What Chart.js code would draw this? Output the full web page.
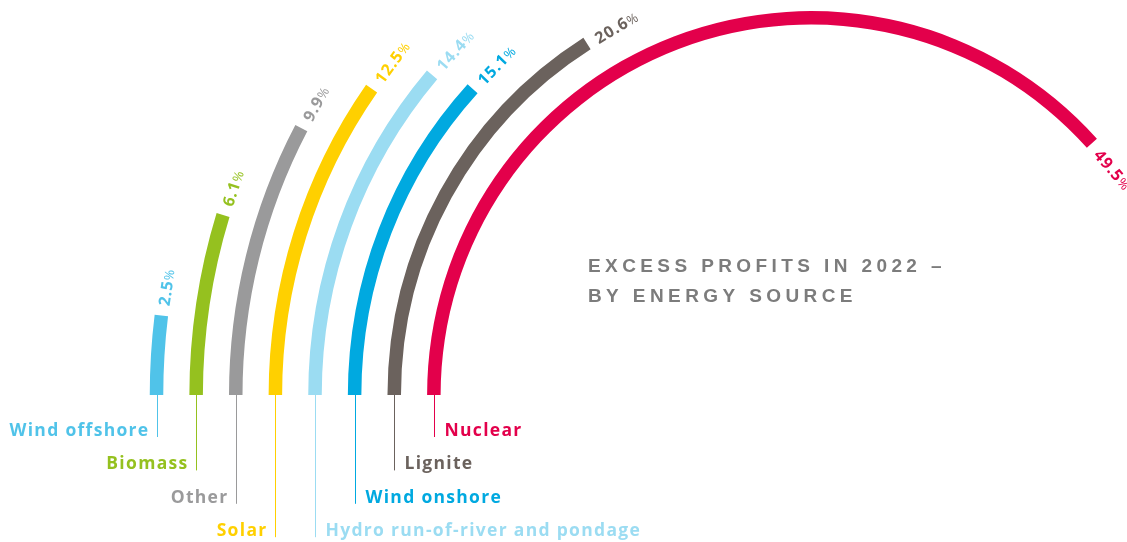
<!DOCTYPE html>
<html><head><meta charset="utf-8">
<script src="https://cdn.jsdelivr.net/npm/chart.js@4.4.0/dist/chart.umd.min.js"></script>
<style>
html,body{margin:0;padding:0;background:#fff;overflow:hidden;}
#wrap{position:relative;width:1127px;height:542px;overflow:hidden;background:#fff;}
#c{position:absolute;left:0;top:-266px;}
</style></head><body>
<div id="wrap"><canvas id="c" width="1472" height="1322" style="width:1472px;height:1322px"></canvas></div>
<script>
// ---- data ----
const categories = ['Wind offshore', 'Biomass', 'Other', 'Solar', 'Hydro run-of-river and pondage', 'Wind onshore', 'Lignite', 'Nuclear'];
const values = [2.5, 6.1, 9.9, 12.5, 14.4, 15.1, 20.6, 49.5];
const valueLabels = ['2.5', '6.1', '9.9', '12.5', '14.4', '15.1', '20.6', '49.5'];
const colors = ['#50c3e9', '#95c11f', '#9a9a9b', '#ffd000', '#9bdcf2', '#00a9e0', '#6b625d', '#e3004b'];
const titleLines = ['EXCESS PROFITS IN 2022 \u2013', 'BY ENERGY SOURCE'];
const FULL_TURN = 129.0;   // percent value that would close a full circle

// ---- layout ----
const OY = 266;               // canvas top offset (page y = canvas y - OY)
const RING_W = 13.5, GAP_W = 26.1;
const labelLevel = [0, 1, 2, 3, 3, 2, 1, 0];

const datasets = [];
const ringIdx = [];
categories.forEach((c, i) => {
  if (i > 0) datasets.push({ label: 'gap' + i, data: [1], backgroundColor: 'rgba(0,0,0,0)', weight: GAP_W, borderWidth: 0 });
  ringIdx.push(datasets.length);
  datasets.push({
    label: c,
    data: [values[i], FULL_TURN - values[i]],
    backgroundColor: [colors[i], 'rgba(0,0,0,0)'],
    weight: RING_W,
    borderWidth: 0
  });
});

const labelPlugin = {
  id: 'ringLabels',
  afterDatasetsDraw(chart) {
    const ctx = chart.ctx;
    ringIdx.forEach((dsIndex, i) => {
      const arc = chart.getDatasetMeta(dsIndex).data[0];
      const rMid = (arc.innerRadius + arc.outerRadius) / 2;
      const col = colors[i];
      // leader line
      const lx = Math.round(arc.x - rMid) + 0.5;
      const endY = 437 + labelLevel[i] * 33.4 + OY;
      ctx.save();
      ctx.strokeStyle = col;
      ctx.lineWidth = 1;
      ctx.beginPath();
      ctx.moveTo(lx, arc.y);
      ctx.lineTo(lx, endY);
      ctx.stroke();
      // category label
      ctx.fillStyle = col;
      ctx.font = 'bold 17.5px "Open Sans"';
      try { ctx.letterSpacing = '1.3px'; } catch (e) {}
      ctx.textBaseline = 'alphabetic';
      if (i < 4) { ctx.textAlign = 'right'; ctx.fillText(categories[i], lx - 8, endY - 1); }
      else { ctx.textAlign = 'left'; ctx.fillText(categories[i], lx + 10, endY - 1); }
      ctx.restore();

      // percentage label along tangent
      ctx.save();
      const gap = 10;
      ctx.translate(arc.x, arc.y);
      ctx.rotate(arc.endAngle + gap / rMid);
      ctx.translate(rMid, 0);
      ctx.rotate(Math.PI / 2);
      ctx.fillStyle = col;
      ctx.textAlign = 'left';
      ctx.textBaseline = 'alphabetic';
      try { ctx.letterSpacing = '1px'; } catch (e) {}
      ctx.font = 'bold 16px "Open Sans"';
      ctx.fillText(valueLabels[i], 0, 7);
      const w = ctx.measureText(valueLabels[i]).width;
      ctx.font = '13px "Open Sans"';
      try { ctx.letterSpacing = '0px'; } catch (e) {}
      ctx.fillText('%', w, 7);
      ctx.restore();
    });
    // title
    ctx.save();
    ctx.fillStyle = '#7c7c7c';
    ctx.font = 'bold 19px "Liberation Sans"';
    try { ctx.letterSpacing = '4.4px'; } catch (e) {}
    ctx.textAlign = 'left';
    ctx.textBaseline = 'alphabetic';
    ctx.fillText(titleLines[0], 588, 272 + OY);
    ctx.fillText(titleLines[1], 588, 302 + OY);
    ctx.restore();
  }
};

new Chart(document.getElementById('c'), {
  type: 'doughnut',
  data: { labels: ['value', 'rest'], datasets },
  options: {
    responsive: false,
    animation: false,
    events: [],
    rotation: -90,
    circumference: 360,
    cutout: 370.25,
    radius: 661.25,
    layout: { padding: { left: 150, right: 0, top: 0, bottom: 0 } },
    elements: { arc: { borderWidth: 0, offset: 0, hoverOffset: 0 } },
    plugins: { legend: { display: false }, tooltip: { enabled: false }, title: { display: false } }
  },
  plugins: [labelPlugin]
});
</script>
</body></html>
